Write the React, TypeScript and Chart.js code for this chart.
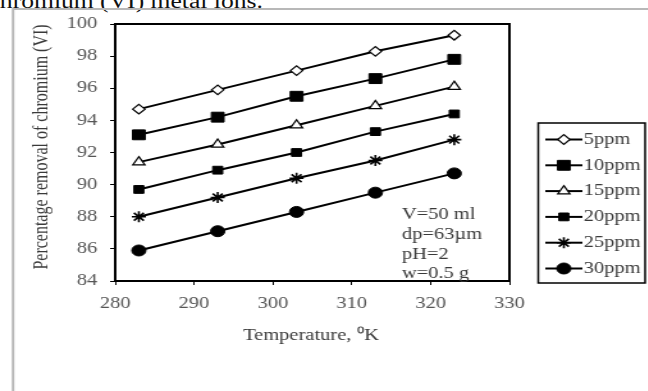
import React, { useEffect, useRef } from 'react';
import { Chart, registerables } from 'chart.js';
import { drawPoint } from 'chart.js/helpers';

Chart.register(...registerables);

// ---- data ----
const temperatures = [283, 293, 303, 313, 323];
const ppm5 = [94.7, 95.9, 97.1, 98.3, 99.3];
const ppm10 = [93.1, 94.2, 95.5, 96.6, 97.8];
const ppm15 = [91.4, 92.5, 93.7, 94.9, 96.1];
const ppm20 = [89.7, 90.9, 92.0, 93.3, 94.4];
const ppm25 = [88.0, 89.2, 90.4, 91.5, 92.8];
const ppm30 = [85.9, 87.1, 88.3, 89.5, 90.7];
const seriesNames = ['5ppm', '10ppm', '15ppm', '20ppm', '25ppm', '30ppm'];
const seriesValues = [ppm5, ppm10, ppm15, ppm20, ppm25, ppm30];
const xTickValues = [280, 290, 300, 310, 320, 330];
const yTickValues = [84, 86, 88, 90, 92, 94, 96, 98, 100];
const conditions = ['V=50 ml', 'dp=63\u00B5m', 'pH=2', 'w=0.5 g'];
const xTitle = 'Temperature, \u2070K';
const yTitle = 'Percentage removal of chromium (VI)';
const headerText = 'chromium (VI) metal ions.';

// ---- styles ----
const STRETCH = 1.28;
const CW = 506;
const CH = 391;
const FAMILY = '"Liberation Serif", "Times New Roman", serif';
const TEXT = '#3a3a3a';
const TICK = '#555555';

const markers = [
  { pointStyle: 'rectRot', radius: 4.8, fill: '#ffffff', bw: 1.2 },
  { pointStyle: 'rect', radius: 7, fill: '#000000', bw: 1 },
  { pointStyle: 'triangle', radius: 5.5, fill: '#ffffff', bw: 1.2 },
  { pointStyle: 'rect', radius: 5.5, fill: '#000000', bw: 1 },
  { pointStyle: 'star', radius: 5.5, fill: '#000000', bw: 1.6 },
  { pointStyle: 'circle', radius: 5.5, fill: '#000000', bw: 1 },
];

const decor = {
  id: 'decor',
  beforeDraw(chart: any) {
    const ctx = chart.ctx;
    ctx.save();
    ctx.strokeStyle = '#b8b8b8';
    ctx.lineWidth = 2;
    ctx.beginPath();
    ctx.moveTo(10.2, CH);
    ctx.lineTo(10.2, 9);
    ctx.lineTo(CW, 9);
    ctx.stroke();
    ctx.restore();
  },
  afterDraw(chart: any) {
    const ctx = chart.ctx;
    const a = chart.chartArea;
    ctx.save();
    // plot frame
    ctx.strokeStyle = '#000';
    ctx.lineWidth = 2;
    ctx.strokeRect(a.left, a.top, a.right - a.left, a.bottom - a.top);

    ctx.fillStyle = TEXT;
    ctx.font = `16px ${FAMILY}`;
    ctx.textAlign = 'center';
    ctx.textBaseline = 'middle';
    ctx.fillText(xTitle, (a.left + a.right) / 2 - 1, 336);

    ctx.save();
    ctx.translate(32.8, 147);
    ctx.rotate(-Math.PI / 2);
    ctx.fillText(yTitle, 0, 0);
    ctx.restore();

    // conditions text
    ctx.textAlign = 'left';
    conditions.forEach((t, i) => {
      ctx.fillText(t, 314, 215 + i * 19.7);
    });

    // legend
    const lx = 420.5, ly = 123, lw = 83.5, lh = 160;
    ctx.lineWidth = 1.5;
    ctx.strokeStyle = '#000';
    ctx.strokeRect(lx, ly, lw, lh);
    seriesNames.forEach((name, i) => {
      const y = 139.5 + i * 25.8;
      const m = markers[i];
      ctx.strokeStyle = '#000';
      ctx.lineWidth = 2;
      ctx.beginPath();
      ctx.moveTo(426, y);
      ctx.lineTo(455, y);
      ctx.stroke();
      ctx.fillStyle = m.fill;
      ctx.strokeStyle = '#000';
      ctx.lineWidth = m.bw;
      drawPoint(ctx, { pointStyle: m.pointStyle, radius: m.radius, rotation: 0, borderWidth: m.bw } as any, 440.5, y);
      ctx.fillStyle = TEXT;
      ctx.textAlign = 'left';
      ctx.fillText(name, 456, y);
    });
    ctx.restore();
  },
};

export default function App() {
  const ref = useRef<HTMLCanvasElement | null>(null);
  useEffect(() => {
    if (!ref.current) return;
    const tickFont = { family: FAMILY, size: 16 };
    const chart = new Chart(ref.current, {
      type: 'line',
      data: {
        datasets: seriesNames.map((name, i) => ({
          label: name,
          data: temperatures.map((t, j) => ({ x: t, y: seriesValues[i][j] })),
          borderColor: '#000',
          borderWidth: 2,
          backgroundColor: markers[i].fill,
          pointStyle: markers[i].pointStyle as any,
          pointRadius: markers[i].radius,
          pointBackgroundColor: markers[i].fill,
          pointBorderColor: '#000',
          pointBorderWidth: markers[i].bw,
          tension: 0,
          fill: false,
        })),
      },
      options: {
        responsive: false,
        animation: false,
        events: [],
        layout: { padding: { left: 0, top: 24, right: 108, bottom: 0 } },
        plugins: { legend: { display: false }, tooltip: { enabled: false } },
        scales: {
          x: {
            type: 'linear',
            min: 280,
            max: 330,
            afterBuildTicks: (s: any) => {
              s.ticks = xTickValues.map((v) => ({ value: v }));
            },
            afterFit: (s: any) => {
              s.height = 110;
            },
            ticks: { font: tickFont, color: TICK, padding: 9, maxRotation: 0 },
            grid: { display: true, drawOnChartArea: false, drawTicks: true, tickLength: 4, color: '#000' },
            border: { display: false },
          },
          y: {
            type: 'linear',
            min: 84,
            max: 100,
            afterBuildTicks: (s: any) => {
              s.ticks = yTickValues.map((v) => ({ value: v }));
            },
            afterFit: (s: any) => {
              s.width = 90;
            },
            ticks: { font: tickFont, color: TICK, padding: 10 },
            grid: { display: true, drawOnChartArea: false, drawTicks: true, tickLength: 4, color: '#000' },
            border: { display: false },
          },
        },
      },
      plugins: [decor],
    });
    return () => chart.destroy();
  }, []);

  return (
    <div
      style={{
        position: 'absolute',
        left: 0,
        top: 0,
        width: CW,
        height: CH,
        overflow: 'hidden',
        transform: `scaleX(${STRETCH})`,
        transformOrigin: '0 0',
        background: '#fff',
      }}
    >
      <div
        style={{
          position: 'absolute',
          left: -9,
          top: -8.8,
          fontFamily: FAMILY,
          fontSize: 20,
          lineHeight: '20px',
          whiteSpace: 'nowrap',
          color: '#111',
        }}
      >
        {headerText}
      </div>
      <canvas ref={ref} width={CW} height={CH} style={{ position: 'absolute', left: 0, top: 0 }} />
    </div>
  );
}
